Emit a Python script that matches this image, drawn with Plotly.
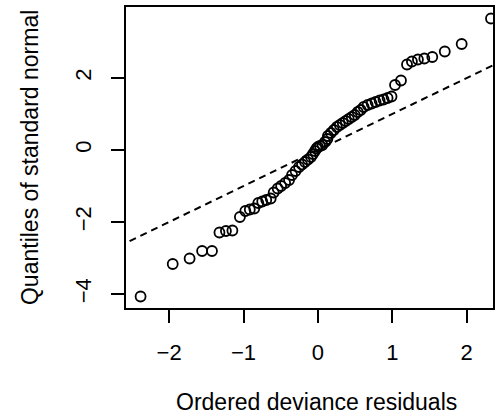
import plotly.graph_objects as go

# Ordered deviance residuals (x) vs quantiles of standard normal (y)
residuals = [-2.384, -1.952, -1.725, -1.557, -1.424, -1.324, -1.237, -1.150,
             -1.049, -0.976, -0.916, -0.856, -0.802, -0.749, -0.695, -0.635,
             -0.595, -0.541, -0.495, -0.441, -0.388, -0.348, -0.301, -0.254,
             -0.214, -0.174, -0.134,
             -0.094, -0.067, -0.040, -0.020, 0.000, 0.027, 0.060, 0.094, 0.127,
             0.134, 0.174, 0.214, 0.254, 0.294, 0.334, 0.374, 0.414, 0.455,
             0.495, 0.535, 0.575,
             0.615, 0.668, 0.722, 0.775, 0.829, 0.882, 0.936, 0.989,
             1.036, 1.116,
             1.197, 1.263, 1.344, 1.430, 1.537, 1.705, 1.932, 2.326]
normal_q = [-4.069, -3.167, -3.014, -2.806, -2.806, -2.292, -2.250, -2.236,
            -1.861, -1.694, -1.653, -1.625, -1.472, -1.431, -1.389, -1.347,
            -1.181, -1.069, -1.000, -0.917, -0.833, -0.694, -0.583, -0.472,
            -0.403, -0.333, -0.264,
            -0.194, -0.111, -0.028, 0.042, 0.083, 0.111, 0.139, 0.222, 0.306,
            0.389, 0.472, 0.556, 0.639, 0.694, 0.750, 0.806, 0.861, 0.917,
            0.972, 1.056, 1.111,
            1.194, 1.250, 1.292, 1.333, 1.375, 1.403, 1.444, 1.486,
            1.806, 1.931,
            2.375, 2.458, 2.514, 2.542, 2.583, 2.736, 2.944, 3.653]

# reference line y = x
ref_x = [-5, 5]
ref_y = [-5, 5]

x_ticks = [-2, -1, 0, 1, 2]
y_ticks = [-4, -2, 0, 2]
x_range = [-2.58, 2.353]
y_range = [-4.389, 3.972]

FONT = "Liberation Sans, Arial, sans-serif"

fig = go.Figure()
fig.add_trace(go.Scatter(x=ref_x, y=ref_y, mode="lines",
                         line=dict(color="black", width=2, dash="7px,5px"),
                         hoverinfo="skip", showlegend=False))
fig.add_trace(go.Scatter(x=residuals, y=normal_q, mode="markers",
                         marker=dict(symbol="circle-open", size=10,
                                     color="black", line=dict(width=1.8, color="black")),
                         showlegend=False))

axis_common = dict(showgrid=False, zeroline=False, showline=True, mirror=True,
                   linecolor="black", linewidth=2.2, ticks="outside", ticklen=13,
                   tickwidth=2, tickcolor="black",
                   tickfont=dict(family=FONT, size=22, color="black"))

fig.update_xaxes(range=x_range, tickvals=x_ticks, ticklabelstandoff=10, **axis_common)
fig.update_yaxes(range=y_range, tickvals=y_ticks, tickangle=-90, ticklabelstandoff=11,
                 **axis_common)

fig.add_annotation(text="Ordered deviance residuals", xref="paper", yref="paper",
                   x=(318 - 126) / 369, y=-(402 - 308) / 301, xanchor="center",
                   yanchor="middle", showarrow=False,
                   font=dict(family=FONT, size=23, color="black"))
fig.add_annotation(text="Quantiles of standard normal", xref="paper", yref="paper",
                   x=-(126 - 29) / 369, y=0.5, xanchor="center", yanchor="middle",
                   textangle=-90, showarrow=False,
                   font=dict(family=FONT, size=23, color="black"))

fig.update_layout(width=495, height=419, margin=dict(l=126, r=0, t=7, b=111),
                  plot_bgcolor="white", paper_bgcolor="white")

fig.write_html("out.html")
